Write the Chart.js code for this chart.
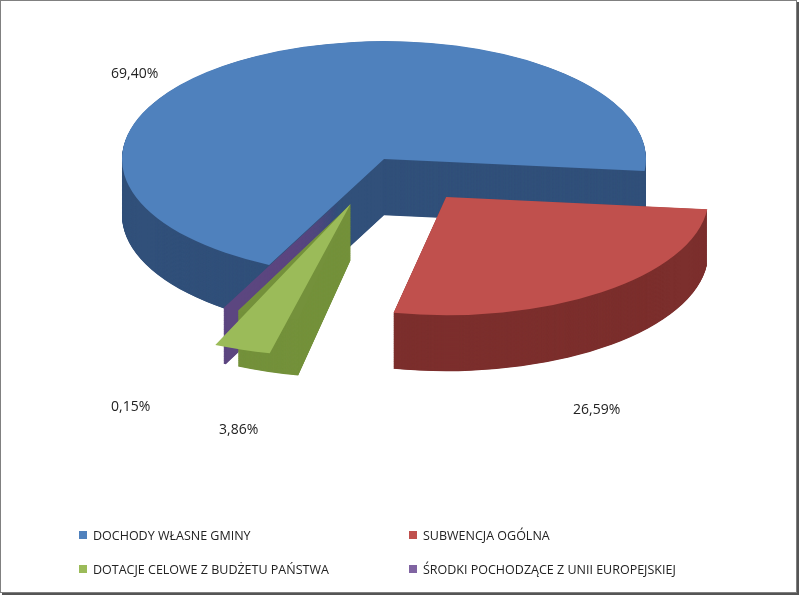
<!DOCTYPE html>
<html lang="pl">
<head>
<meta charset="UTF-8">
<title>Struktura dochodów</title>
<script src="https://cdn.jsdelivr.net/npm/chart.js"></script>
<style>
  body { margin: 0; background: #fff; font-family: "Open Sans", "Liberation Sans", sans-serif; }
  #frame {
    position: absolute; left: 0; top: 0; width: 795px; height: 591px;
    border: 1px solid #808080; box-shadow: 2px 2px 0 #555;
    overflow: hidden;
  }
  #pie { position: absolute; left: 0; top: 0; }
  .lbl { position: absolute; font-size: 14px; color: #222; }
  .leg { position: absolute; font-size: 12.5px; color: #222; white-space: nowrap; }
  .leg i { display: inline-block; width: 8px; height: 8px; margin-right: 6px; vertical-align: 1px; }
</style>
</head>
<body>
<div id="frame">
  <canvas id="pie" width="799" height="595"></canvas>
  <div id="labels"></div>
  <div id="legend"></div>
</div>
<script>
  // Dane wykresu
  const categories = ['DOCHODY WŁASNE GMINY', 'SUBWENCJA OGÓLNA', 'DOTACJE CELOWE Z BUDŻETU PAŃSTWA', 'ŚRODKI POCHODZĄCE Z UNII EUROPEJSKIEJ'];
  const shares = [69.40, 26.59, 3.86, 0.15];
  const topColors = ['#4f81bd', '#c0504d', '#9bbb59', '#8064a2'];
  const sideColors = ['#31507a', '#7c2f2d', '#74913b', '#5c4680'];
  const explode = [0, 420, 420, 420];

  // Ustawienia "3D" – spłaszczenie i grubość
  const squash = 0.45;
  const depth = 125;
  const targetX = 383, targetY = 158;

  function applyTransform(chart) {
    const ctx = chart.ctx;
    const a = chart.chartArea;
    const cx = (a.left + a.right) / 2, cy = (a.top + a.bottom) / 2;
    ctx.translate(targetX, targetY);
    ctx.scale(1, squash);
    ctx.translate(-cx, -cy);
  }

  const pie3d = {
    id: 'pie3d',
    beforeDatasetsDraw(chart) {
      const ctx = chart.ctx;
      ctx.save();
      applyTransform(chart);
      const arcs = chart.getDatasetMeta(0).data;
      for (let d = depth; d > 0; d -= 1) {
        arcs.forEach((arc, i) => {
          const half = (arc.startAngle + arc.endAngle) / 2;
          const off = explode[i] / 4;
          const x = arc.x + Math.cos(half) * off;
          const y = arc.y + Math.sin(half) * off + d;
          ctx.beginPath();
          ctx.moveTo(x, y);
          ctx.arc(x, y, arc.outerRadius, arc.startAngle, arc.endAngle);
          ctx.closePath();
          ctx.fillStyle = sideColors[i];
          ctx.fill();
        });
      }
    },
    afterDatasetsDraw(chart) {
      chart.ctx.restore();
    }
  };

  new Chart(document.getElementById('pie'), {
    type: 'pie',
    data: {
      labels: categories,
      datasets: [{
        data: shares,
        backgroundColor: topColors,
        borderWidth: 0,
        offset: explode,
        clip: false
      }]
    },
    options: {
      responsive: false,
      animation: false,
      rotation: 206,
      radius: 262,
      plugins: { legend: { display: false }, tooltip: { enabled: false } }
    },
    plugins: [pie3d]
  });

  // Etykiety danych
  const labelPos = [[110, 62], [572, 398], [218, 418], [110, 395]];
  const labelsBox = document.getElementById('labels');
  shares.forEach((v, i) => {
    const el = document.createElement('div');
    el.className = 'lbl';
    el.style.left = labelPos[i][0] + 'px';
    el.style.top = labelPos[i][1] + 'px';
    el.textContent = v.toFixed(2).replace('.', ',') + '%';
    labelsBox.appendChild(el);
  });

  // Legenda
  const legendPos = [[78, 526], [408, 526], [78, 560], [408, 560]];
  const legendBox = document.getElementById('legend');
  categories.forEach((c, i) => {
    const el = document.createElement('div');
    el.className = 'leg';
    el.style.left = legendPos[i][0] + 'px';
    el.style.top = legendPos[i][1] + 'px';
    el.innerHTML = '<i style="background:' + topColors[i] + '"></i>' + c;
    legendBox.appendChild(el);
  });
</script>
</body>
</html>
